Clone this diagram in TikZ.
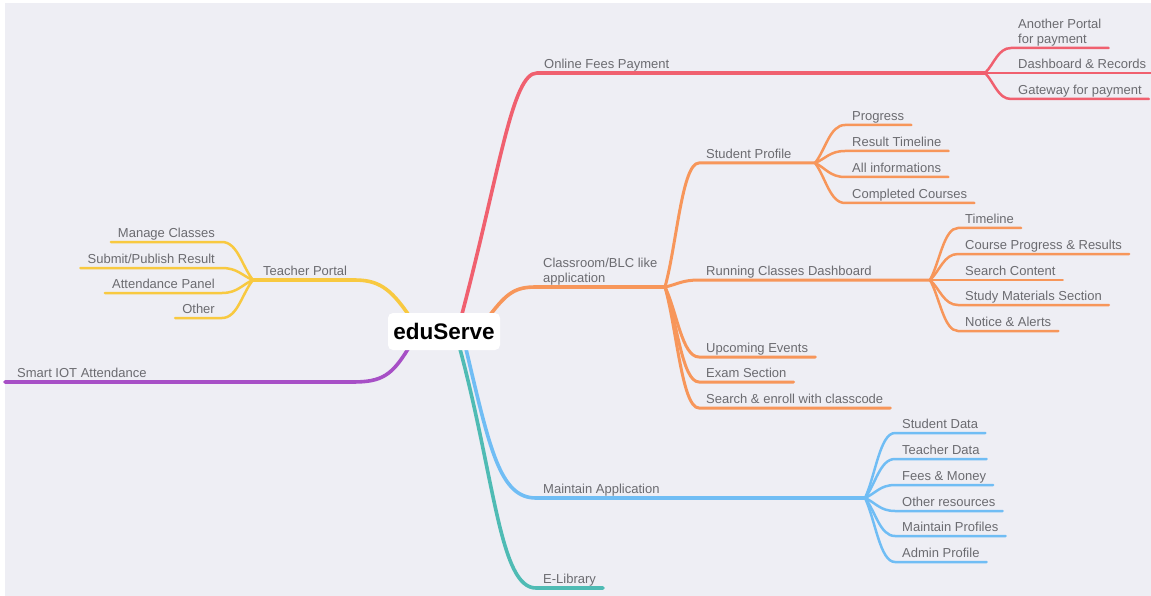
\documentclass[tikz,border=0pt]{standalone}
\usepackage{fontspec}
\setmainfont{Liberation Sans}
\usetikzlibrary{calc,backgrounds}
\definecolor{bgc}{HTML}{EEEEF4}
\definecolor{txt}{HTML}{6B6B70}
\definecolor{cred}{HTML}{F0606F}
\definecolor{corange}{HTML}{F7965A}
\definecolor{cyellow}{HTML}{F8C940}
\definecolor{cpurple}{HTML}{A74FC6}
\definecolor{cblue}{HTML}{70BDF4}
\definecolor{cteal}{HTML}{4FBBB4}
\tikzset{
  lbl/.style={font=\fontsize{13}{15.5}\selectfont, text=txt, inner xsep=7pt, inner ysep=4pt, text depth=0pt, anchor=south west, align=left},
  lblL/.style={lbl, anchor=south east, align=right},
  rootnode/.style={fill=white, rounded corners=5pt, minimum width=112pt, minimum height=37pt, inner sep=0pt, font=\bfseries\fontsize{22.5}{26}\selectfont, text=black},
  wroot/.style={line width=3.6pt, line cap=round},
  wmid/.style={line width=3pt, line cap=round},
  wleaf/.style={line width=2.5pt, line cap=round},
  fan/.style={to path={let \p1=(\tikztostart), \p2=(\tikztotarget) in
     .. controls ({\x1+0.35*(\x2-(\x1))},{\y1+0.35*(\y2-(\y1))}) and ({0.5*\x1+0.5*\x2},\y2) .. (\tikztotarget) \tikztonodes}}
}
\begin{document}
\begin{tikzpicture}[x=1pt,y=-1pt]
\useasboundingbox (0,0) rectangle (1151,596);
% root
\node[rootnode] (edu) at (444,331.5) {eduServe};
\coordinate (eR) at (462,314);
\coordinate (eO) at (490,315);
\coordinate (eY) at (408,314);
\coordinate (eP) at (408,349);
\coordinate (eB) at (466,349);
\coordinate (eT) at (460,349);
% junctions
\coordinate (jr) at (985,73);
\coordinate (jc) at (665,287);
\coordinate (jsp) at (815,163);
\coordinate (jrc) at (930,280);
\coordinate (jm) at (865,498);
\coordinate (jt) at (253,280);
\coordinate (ipt) at (353,382);
% red
\node[lbl] (ofp) at (537,73) {Online Fees Payment};
\node[lbl,font=\fontsize{13}{15.5}\selectfont] (a1) at (1011,48) {Another Portal\\for payment};
\node[lbl] (a2) at (1011,73) {Dashboard \& Records};
\node[lbl] (a3) at (1011,99) {Gateway for payment};
% orange
\node[lbl] (cls) at (536,287) {Classroom/BLC like\\application};
\node[lbl] (sp) at (699,163) {Student Profile};
\node[lbl] (p1) at (845,125) {Progress};
\node[lbl] (p2) at (845,151) {Result Timeline};
\node[lbl] (p3) at (845,177) {All informations};
\node[lbl] (p4) at (845,203) {Completed Courses};
\node[lbl] (rc) at (699,280) {Running Classes Dashboard};
\node[lbl] (r1) at (958,228) {Timeline};
\node[lbl] (r2) at (958,254) {Course Progress \& Results};
\node[lbl] (r3) at (958,280) {Search Content};
\node[lbl] (r4) at (958,305) {Study Materials Section};
\node[lbl] (r5) at (958,331) {Notice \& Alerts};
\node[lbl] (ue) at (699,357) {Upcoming Events};
\node[lbl] (ex) at (699,382) {Exam Section};
\node[lbl] (se) at (699,408) {Search \& enroll with classcode};
% blue
\node[lbl] (ma) at (536,498) {Maintain Application};
\node[lbl] (m1) at (895,433) {Student Data};
\node[lbl] (m2) at (895,459) {Teacher Data};
\node[lbl] (m3) at (895,485) {Fees \& Money};
\node[lbl] (m4) at (895,511) {Other resources};
\node[lbl] (m5) at (895,536) {Maintain Profiles};
\node[lbl] (m6) at (895,562) {Admin Profile};
% teal
\node[lbl] (el) at (536,588) {E-Library};
% yellow
\node[lbl] (tp) at (256,280) {Teacher Portal};
\node[lblL] (t1) at (222,242) {Manage Classes};
\node[lblL] (t2) at (222,268) {Submit/Publish Result};
\node[lblL] (t3) at (222,293) {Attendance Panel};
\node[lblL] (t4) at (222,318) {Other};
% purple
\node[lbl, inner xsep=12pt] (iot) at (5,382) {Smart IOT Attendance};

\begin{pgfonlayer}{background}
\fill[white] (0,0) rectangle (1151,596);
\fill[bgc] (5,3) rectangle (1151,596);
% red
\draw[cred,wroot] (eR) .. controls (500,170) and (512,73) .. (ofp.south west) -- (jr);
\draw[cred,wleaf] (jr) to[fan] (a1.south west) -- (a1.south east);
\draw[cred,wleaf] (jr) to[fan] (a2.south west) -- (a2.south east);
\draw[cred,wleaf] (jr) to[fan] (a3.south west) -- (a3.south east);
% orange
\draw[corange,wroot] (eO) .. controls (507,293) and (515,287) .. (cls.south west) -- (jc);
\draw[corange,wmid] (jc) to[fan] (sp.south west) -- (jsp);
\draw[corange,wleaf] (jsp) to[fan] (p1.south west) -- (p1.south east);
\draw[corange,wleaf] (jsp) to[fan] (p2.south west) -- (p2.south east);
\draw[corange,wleaf] (jsp) to[fan] (p3.south west) -- (p3.south east);
\draw[corange,wleaf] (jsp) to[fan] (p4.south west) -- (p4.south east);
\draw[corange,wmid] (jc) to[fan] (rc.south west) -- (jrc);
\draw[corange,wleaf] (jrc) to[fan] (r1.south west) -- (r1.south east);
\draw[corange,wleaf] (jrc) to[fan] (r2.south west) -- (r2.south east);
\draw[corange,wleaf] (jrc) to[fan] (r3.south west) -- (r3.south east);
\draw[corange,wleaf] (jrc) to[fan] (r4.south west) -- (r4.south east);
\draw[corange,wleaf] (jrc) to[fan] (r5.south west) -- (r5.south east);
\draw[corange,wmid] (jc) to[fan] (ue.south west) -- (ue.south east);
\draw[corange,wmid] (jc) to[fan] (ex.south west) -- (ex.south east);
\draw[corange,wmid] (jc) to[fan] (se.south west) -- (se.south east);
% blue
\draw[cblue,wroot] (eB) .. controls (490,450) and (500,498) .. (ma.south west) -- (jm);
\draw[cblue,wleaf] (jm) to[fan] (m1.south west) -- (m1.south east);
\draw[cblue,wleaf] (jm) to[fan] (m2.south west) -- (m2.south east);
\draw[cblue,wleaf] (jm) to[fan] (m3.south west) -- (m3.south east);
\draw[cblue,wleaf] (jm) to[fan] (m4.south west) -- (m4.south east);
\draw[cblue,wleaf] (jm) to[fan] (m5.south west) -- (m5.south east);
\draw[cblue,wleaf] (jm) to[fan] (m6.south west) -- (m6.south east);
% teal
\draw[cteal,wroot] (eT) .. controls (495,480) and (500,588) .. (el.south west) -- (el.south east);
% yellow
\draw[cyellow,wroot] (eY) .. controls (390,288) and (378,280) .. (tp.south east) -- (jt);
\draw[cyellow,wleaf] (jt) to[fan] (t1.south east) -- (t1.south west);
\draw[cyellow,wleaf] (jt) to[fan] (t2.south east) -- (t2.south west);
\draw[cyellow,wleaf] (jt) to[fan] (t3.south east) -- (t3.south west);
\draw[cyellow,wleaf] (jt) to[fan] (t4.south east) -- (t4.south west);
% purple
\draw[cpurple,wroot] (eP) .. controls (392,375) and (382,382) .. (ipt) -- (iot.south west);
\end{pgfonlayer}
\end{tikzpicture}
\end{document}
